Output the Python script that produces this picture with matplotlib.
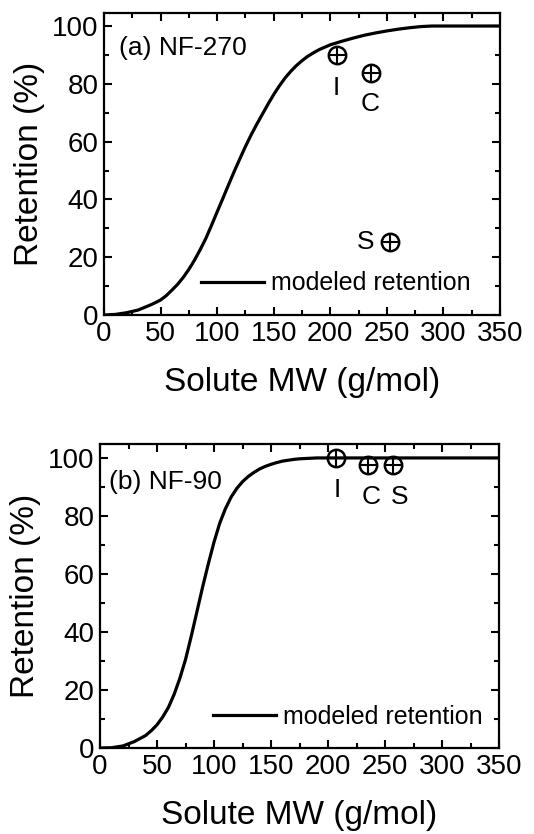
import matplotlib
matplotlib.use("Agg")
from matplotlib import pyplot as plt
from matplotlib.ticker import MultipleLocator

plt.rcParams['font.family'] = ['Liberation Sans', 'DejaVu Sans']

# modeled retention curves
mw = [0, 10, 20, 30,
      40, 45, 50, 55, 60, 65, 70, 75, 80, 85, 90, 95, 100, 105, 110, 115, 120,
      125, 130, 135, 140, 145, 150, 155, 160, 165, 170, 175, 180, 185, 190,
      200, 210, 220, 230, 240, 250, 260, 270, 280, 290, 300, 325, 350]
ret_nf270 = [0, 0.2, 0.8, 1.7,
             3.3, 4.2, 5.2, 6.7, 8.6, 10.6, 13, 15.8, 19, 22.6, 26.5, 31, 35.7, 40.3, 45, 49.6, 54,
             58.3, 62.3, 66, 69.5, 73, 76.3, 79.3, 82, 84.3, 86.3, 88, 89.5, 90.7, 91.8,
             93.5, 94.7, 95.8, 96.8, 97.6, 98.3, 98.9, 99.4, 99.8, 100, 100, 100, 100]
ret_nf90 = [0, 0.1, 0.7, 2.2,
            4.3, 6, 8, 10.7, 14, 18.5, 24, 30.5, 38.5, 47, 55.5, 63.5, 71, 77.5, 82.5, 86.5, 89.5,
            91.8, 93.6, 95, 96.2, 97.1, 97.8, 98.4, 98.9, 99.2, 99.5, 99.7, 99.8, 99.9, 100,
            100, 100, 100, 100, 100, 100, 100, 100, 100, 100, 100, 100, 100]

# measured solutes: I, C, S
solutes = ['I', 'C', 'S']
mw_nf270 = [206, 236, 253]
obs_nf270 = [90, 83.8, 25.4]
mw_nf90 = [207, 235, 257]
obs_nf90 = [100, 97.6, 97.6]

# label positions (data coords)
lab_nf270 = [(205, 78.5), (235.5, 73), (231.5, 25.4)]
lab_nf90 = [(208, 89), (238, 86.7), (263, 86.7)]

fig = plt.figure(figsize=(5.34, 8.34), dpi=100)
ax1 = fig.add_axes([0.1948, 0.6223, 0.7415, 0.3621])
ax2 = fig.add_axes([0.1873, 0.1031, 0.7472, 0.3645])

panels = [
	(ax1, ret_nf270, mw_nf270, obs_nf270, lab_nf270, '(a) NF-270', (13, 92.3), 104.5, (0.246, 0.105)),
	(ax2, ret_nf90, mw_nf90, obs_nf90, lab_nf90, '(b) NF-90', (8.2, 91.8), 104.8, (0.284, 0.102)),
]

for ax, ret, xm, ym, labs, title, tpos, ytop, legpos in panels:
	ax.plot(mw, ret, color='black', lw=2.3, solid_joinstyle='round', label='modeled retention')
	ax.plot(xm, ym, 'o', ms=12.5, mfc='none', mec='black', mew=1.8)
	ax.plot(xm, ym, '+', ms=12.5, mec='black', mew=1.5)
	for s, (lx, ly) in zip(solutes, labs):
		ax.text(lx, ly, s, fontsize=19, ha='center', va='center')
	ax.text(tpos[0], tpos[1], title, fontsize=19, ha='left', va='center')

	ax.set_xlim(0, 350)
	ax.set_ylim(0, ytop)
	ax.xaxis.set_major_locator(MultipleLocator(50))
	ax.xaxis.set_minor_locator(MultipleLocator(25))
	ax.yaxis.set_major_locator(MultipleLocator(20))
	ax.yaxis.set_minor_locator(MultipleLocator(10))
	ax.tick_params(which='both', direction='in', top=True, right=True, width=1.5)
	ax.tick_params(which='major', length=6, labelsize=20, pad=4)
	ax.tick_params(which='minor', length=3.5)
	for sp in ax.spines.values():
		sp.set_linewidth(1.6)
	ax.set_xlabel('Solute MW (g/mol)', fontsize=24, labelpad=15)
	ax.set_ylabel('Retention (%)', fontsize=24, labelpad=5)

	ax.legend(loc='center left', bbox_to_anchor=legpos, frameon=False, fontsize=18,
		handlelength=2.5, handletextpad=0.3, borderpad=0, borderaxespad=0)

fig.savefig('out.png', dpi=100)
